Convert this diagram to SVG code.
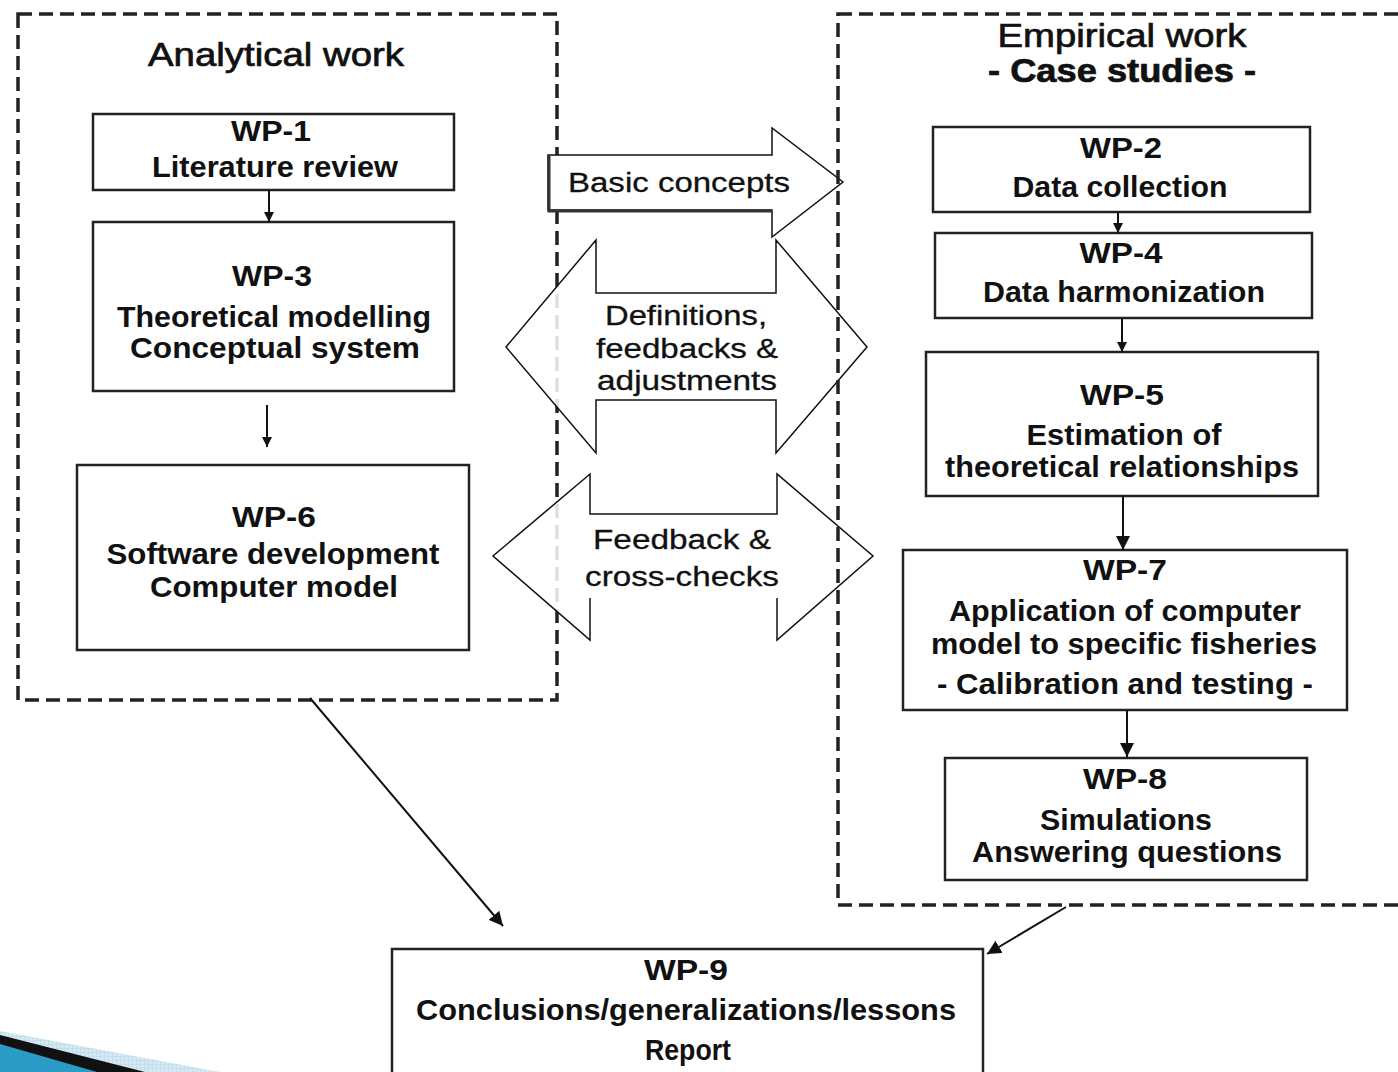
<svg xmlns="http://www.w3.org/2000/svg" width="1398" height="1072" viewBox="0 0 1398 1072">
<defs>
<style>
.t{font-family:"Liberation Sans",Arial,sans-serif;fill:#111;text-anchor:middle}
.h{font-size:33px;stroke:#111;stroke-width:0.7}
.b{font-size:30px;font-weight:bold}
.m{font-size:27px;stroke:#111;stroke-width:0.3}
.box{fill:#fff;stroke:#222;stroke-width:2.5}
.dash{fill:none;stroke:#222;stroke-width:3.5;stroke-dasharray:14 7}
.c{fill:none;stroke:#111;stroke-width:2}
.arr{stroke:#111;stroke-width:1.5;stroke-linejoin:miter}
</style>
<marker id="ah" viewBox="0 0 10 10" refX="10" refY="5" markerWidth="10" markerHeight="10" markerUnits="userSpaceOnUse" orient="auto"><path d="M0,0 L10,5 L0,10 z" fill="#111"/></marker>
<marker id="ahb" viewBox="0 0 10 10" refX="10" refY="5" markerWidth="14" markerHeight="14" markerUnits="userSpaceOnUse" orient="auto"><path d="M0,0 L10,5 L0,10 z" fill="#111"/></marker>
<pattern id="grid" width="4" height="4" patternUnits="userSpaceOnUse"><rect width="4" height="4" fill="#d4e9f2"/><path d="M0,0 H4 M0,0 V4" stroke="#b6d8e6" stroke-width="1"/></pattern>
</defs>
<rect width="1398" height="1072" fill="#fff"/>

<!-- decorative swoosh -->
<g id="swoosh">
<polygon points="0,1031 220,1072 0,1072" fill="url(#grid)"/>
<polygon points="0,1035 145,1072 0,1072" fill="#111"/>
<polygon points="0,1044 97,1072 0,1072" fill="#2a9cc6"/>
</g>

<!-- left group -->
<g id="analytical">
<rect class="dash" x="18" y="14" width="539" height="686"/>
<text class="t h" x="276" y="66" textLength="256" lengthAdjust="spacingAndGlyphs">Analytical work</text>
</g>

<!-- middle arrows -->
<g id="basic-concepts">
<polygon class="arr" fill="#fff" points="548,155 772,155 772,128 843,182 772,237 772,210 548,210"/>
<path d="M549,155 V211 H772" fill="none" stroke="#333" stroke-width="3"/>
<text class="t m" x="679" y="192" textLength="222" lengthAdjust="spacingAndGlyphs">Basic concepts</text>
</g>
<g id="definitions">
<polygon fill="#fff" fill-opacity="0.86" points="596,240 596,293 776,293 776,240 867,347 776,453 776,400 596,400 596,453 506,347"/>
<polygon class="arr" fill="none" points="596,240 596,293 776,293 776,240 867,347 776,453 776,400 596,400 596,453 506,347"/>
<text class="t m" x="686" y="325" textLength="162" lengthAdjust="spacingAndGlyphs">Definitions,</text>
<text class="t m" x="687" y="358" textLength="182" lengthAdjust="spacingAndGlyphs">feedbacks &amp;</text>
<text class="t m" x="687" y="390" textLength="180" lengthAdjust="spacingAndGlyphs">adjustments</text>
</g>
<g id="feedback">
<polygon fill="#fff" fill-opacity="0.86" points="590,474 590,514 777,514 777,474 873,556 777,640 777,598 590,598 590,640 493,556"/>
<polyline class="arr" fill="none" points="590,598 590,640 493,556 590,474 590,514 777,514 777,474 873,556 777,640 777,598"/>
<text class="t m" x="682" y="549" textLength="178" lengthAdjust="spacingAndGlyphs">Feedback &amp;</text>
<text class="t m" x="682" y="586" textLength="194" lengthAdjust="spacingAndGlyphs">cross-checks</text>
</g>

<!-- right group -->
<g id="empirical">
<rect class="dash" x="838" y="14" width="580" height="891"/>
<text class="t h" x="1122" y="47" textLength="249" lengthAdjust="spacingAndGlyphs">Empirical work</text>
<text class="t h" x="1122" y="82" font-weight="bold" stroke-width="0" textLength="268" lengthAdjust="spacingAndGlyphs">- Case studies -</text>
</g>

<g id="wp1">
<rect class="box" x="93" y="114" width="361" height="76"/>
<text class="t b" x="271" y="141" textLength="80" lengthAdjust="spacingAndGlyphs">WP-1</text>
<text class="t b" x="275" y="177" textLength="246" lengthAdjust="spacingAndGlyphs">Literature review</text>
</g>
<g id="wp3">
<rect class="box" x="93" y="222" width="361" height="169"/>
<text class="t b" x="272" y="286" textLength="80" lengthAdjust="spacingAndGlyphs">WP-3</text>
<text class="t b" x="274" y="327" textLength="314" lengthAdjust="spacingAndGlyphs">Theoretical modelling</text>
<text class="t b" x="275" y="358" textLength="290" lengthAdjust="spacingAndGlyphs">Conceptual system</text>
</g>
<g id="wp6">
<rect class="box" x="77" y="465" width="392" height="185"/>
<text class="t b" x="274" y="527" textLength="84" lengthAdjust="spacingAndGlyphs">WP-6</text>
<text class="t b" x="273" y="564" textLength="333" lengthAdjust="spacingAndGlyphs">Software development</text>
<text class="t b" x="274" y="597" textLength="248" lengthAdjust="spacingAndGlyphs">Computer model</text>
</g>
<g id="wp2">
<rect class="box" x="933" y="127" width="377" height="85"/>
<text class="t b" x="1121" y="158" textLength="82" lengthAdjust="spacingAndGlyphs">WP-2</text>
<text class="t b" x="1120" y="197" textLength="215" lengthAdjust="spacingAndGlyphs">Data collection</text>
</g>
<g id="wp4">
<rect class="box" x="935" y="233" width="377" height="85"/>
<text class="t b" x="1121" y="263" textLength="83" lengthAdjust="spacingAndGlyphs">WP-4</text>
<text class="t b" x="1124" y="302" textLength="282" lengthAdjust="spacingAndGlyphs">Data harmonization</text>
</g>
<g id="wp5">
<rect class="box" x="926" y="352" width="392" height="144"/>
<text class="t b" x="1122" y="405" textLength="84" lengthAdjust="spacingAndGlyphs">WP-5</text>
<text class="t b" x="1124" y="445" textLength="195" lengthAdjust="spacingAndGlyphs">Estimation of</text>
<text class="t b" x="1122" y="477" textLength="354" lengthAdjust="spacingAndGlyphs">theoretical relationships</text>
</g>
<g id="wp7">
<rect class="box" x="903" y="550" width="444" height="160"/>
<text class="t b" x="1125" y="580" textLength="84" lengthAdjust="spacingAndGlyphs">WP-7</text>
<text class="t b" x="1125" y="621" textLength="352" lengthAdjust="spacingAndGlyphs">Application of computer</text>
<text class="t b" x="1124" y="654" textLength="386" lengthAdjust="spacingAndGlyphs">model to specific fisheries</text>
<text class="t b" x="1125" y="694" textLength="376" lengthAdjust="spacingAndGlyphs">- Calibration and testing -</text>
</g>
<g id="wp8">
<rect class="box" x="945" y="758" width="362" height="122"/>
<text class="t b" x="1125" y="789" textLength="84" lengthAdjust="spacingAndGlyphs">WP-8</text>
<text class="t b" x="1126" y="830" textLength="172" lengthAdjust="spacingAndGlyphs">Simulations</text>
<text class="t b" x="1127" y="862" textLength="310" lengthAdjust="spacingAndGlyphs">Answering questions</text>
</g>
<g id="wp9">
<rect class="box" x="392" y="949" width="591" height="140"/>
<text class="t b" x="686" y="980" textLength="84" lengthAdjust="spacingAndGlyphs">WP-9</text>
<text class="t b" x="686" y="1020" textLength="540" lengthAdjust="spacingAndGlyphs">Conclusions/generalizations/lessons</text>
<text class="t b" x="688" y="1060" textLength="86" lengthAdjust="spacingAndGlyphs">Report</text>
</g>

<!-- connectors -->
<g id="connectors">
<line class="c" x1="269" y1="190" x2="269" y2="222" marker-end="url(#ah)"/>
<line class="c" x1="267" y1="405" x2="267" y2="447" marker-end="url(#ah)"/>
<line class="c" x1="1118" y1="212" x2="1118" y2="233" marker-end="url(#ah)"/>
<line class="c" x1="1122" y1="318" x2="1122" y2="352" marker-end="url(#ah)"/>
<line class="c" x1="1123" y1="496" x2="1123" y2="550" stroke-width="3" marker-end="url(#ahb)"/>
<line class="c" x1="1127" y1="710" x2="1127" y2="757" stroke-width="4" marker-end="url(#ahb)"/>
<line class="c" x1="310" y1="698" x2="503" y2="926" stroke-width="1.8" marker-end="url(#ahb)"/>
<line class="c" x1="1066" y1="907" x2="987" y2="954" stroke-width="2" marker-end="url(#ahb)"/>
</g>
</svg>
